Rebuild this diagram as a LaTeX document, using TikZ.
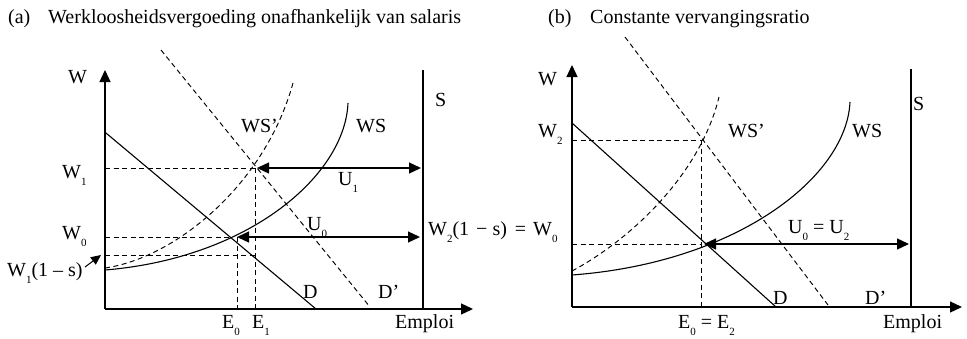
\documentclass[tikz,border=0pt]{standalone}
\usepackage{fontspec}
\setmainfont{Liberation Serif}
\usetikzlibrary{arrows.meta}
\newcommand\sbs[1]{\raisebox{-7pt}{\fontsize{11}{11}\selectfont #1}}
\begin{document}
\begin{tikzpicture}[x=1pt,y=-1pt,font=\fontsize{20}{22}\selectfont,
  axis/.style={line width=1.3pt,-{Triangle[length=12pt,width=11pt]}},
  curve/.style={line width=1.1pt},
  dcurve/.style={line width=0.95pt,dash pattern=on 5pt off 3.5pt},
  guide/.style={line width=0.95pt,dash pattern=on 5pt off 3.5pt},
  uarrow/.style={line width=1.3pt,{Triangle[length=12pt,width=11pt]}-{Triangle[length=12pt,width=11pt]}},
  lbl/.style={anchor=base west,inner sep=0pt}]
\useasboundingbox (0,0) rectangle (967,338);
% ---------------- panel (a) ----------------
\coordinate (aO) at (105,309);
\coordinate (aYt) at (105,70);
\coordinate (aXt) at (473,309);
\coordinate (aSt) at (423,70);
\coordinate (aSb) at (423,309);
\draw[axis] (aO) -- (aYt);
\draw[axis] (aO) -- (aXt);
\draw[line width=1.1pt] (aSt) -- (aSb);
% D and D'
\coordinate (aD1) at (106,133); \coordinate (aD2) at (316,309);
\draw[curve] (aD1) -- (aD2);
\coordinate (aDp1) at (161,50); \coordinate (aDp2) at (370,307);
\draw[dcurve] (aDp1) -- (aDp2);
% WS and WS'
\coordinate (aWS0) at (105,270); \coordinate (aWS1) at (348,103);
\draw[curve] (aWS0) .. controls (250,258) and (345,175) .. (aWS1);
\coordinate (aWSp0) at (105,268); \coordinate (aWSp1) at (293,83);
\draw[dcurve] (aWSp0) .. controls (175,258) and (265,185) .. (aWSp1);
% levels
\coordinate (aW1l) at (105,168); \coordinate (aW1m) at (255,168);
\coordinate (aW1a) at (257,168); \coordinate (aW1r) at (421,168);
\coordinate (aW0l) at (105,237); \coordinate (aW0m) at (230,237);
\coordinate (aW0a) at (237,237); \coordinate (aW0r) at (420,237);
\coordinate (aWsl) at (105,255); \coordinate (aWsm) at (255,255);
\coordinate (aE0t) at (237,237); \coordinate (aE0b) at (237,309);
\coordinate (aE1t) at (255,168); \coordinate (aE1b) at (255,309);
\draw[guide] (aW1l) -- (aW1m);
\draw[guide] (aW0l) -- (aW0m);
\draw[guide] (aWsl) -- (aWsm);
\draw[guide] (aE0t) -- (aE0b);
\draw[guide] (aE1t) -- (aE1b);
\draw[uarrow] (aW1a) -- (aW1r);
\draw[uarrow] (aW0a) -- (aW0r);
\coordinate (aWsfrom) at (85,267); \coordinate (aWsto) at (101,255);
\draw[line width=1pt,-{Triangle[length=10pt,width=9pt]}] (aWsfrom) -- (aWsto);
% labels
\node[lbl] (ta1) at (8,23) {(a)};
\node[lbl] (ta2) at (48,23) {Werkloosheidsvergoeding onafhankelijk van salaris};
\node[lbl] (aW) at (68,83) {W};
\node[lbl] (aS) at (435,106) {S};
\node[lbl] (aWSp) at (241,132) {WS’};
\node[lbl] (aWS) at (356,132) {WS};
\node[lbl] (aW1) at (62,178) {W\sbs{1}};
\node[lbl] (aU1) at (338,185) {U\sbs{1}};
\node[lbl] (aU0) at (307,230) {U\sbs{0}};
\node[lbl] (aW0) at (62,239) {W\sbs{0}};
\node[lbl] (aWs) at (7,276) {W\sbs{1}(1 – s)};
\node[lbl] (aDl) at (303,298) {D};
\node[lbl] (aDpl) at (378,298) {D’};
\node[lbl] (aE0) at (222,328) {E\sbs{0}};
\node[lbl] (aE1) at (252,328) {E\sbs{1}};
\node[lbl] (aEm) at (395,328) {Emploi};
\node[lbl] (bW0lab) at (428,235) {W\sbs{2}(1\hspace{2pt} − s)\hspace{3pt} =\hspace{2pt} W\sbs{0}};
% ---------------- panel (b) ----------------
\coordinate (bO) at (572,307);
\coordinate (bYt) at (572,65);
\coordinate (bXt) at (962,307);
\coordinate (bSt) at (911,69);
\coordinate (bSb) at (911,307);
\draw[axis] (bO) -- (bYt);
\draw[axis] (bO) -- (bXt);
\draw[line width=1.1pt] (bSt) -- (bSb);
\coordinate (bD1) at (572,123); \coordinate (bD2) at (776,307);
\draw[curve] (bD1) -- (bD2);
\coordinate (bDp1) at (625,37); \coordinate (bDp2) at (828,305);
\draw[dcurve] (bDp1) -- (bDp2);
\coordinate (bWS0) at (572,275); \coordinate (bWS1) at (850,102);
\draw[curve] (bWS0) .. controls (738,262.6) and (846.6,176.6) .. (bWS1);
\coordinate (bWSp0) at (572,271); \coordinate (bWSp1) at (719,97);
\draw[dcurve] (bWSp0) .. controls (630,240) and (700,175) .. (bWSp1);
\coordinate (bW2l) at (572,140); \coordinate (bW2m) at (700,140);
\coordinate (bW0l) at (572,244); \coordinate (bW0m) at (702,244);
\coordinate (bW0a) at (704,244); \coordinate (bW0r) at (909,244);
\coordinate (bEt) at (701,140); \coordinate (bEb) at (701,307);
\draw[guide] (bW2l) -- (bW2m);
\draw[guide] (bW0l) -- (bW0m);
\draw[guide] (bEt) -- (bEb);
\draw[uarrow] (bW0a) -- (bW0r);
\node[lbl] (tb1) at (548,23) {(b)};
\node[lbl] (tb2) at (590,23) {Constante vervangingsratio};
\node[lbl] (bW) at (538,85) {W};
\node[lbl] (bW2) at (538,137) {W\sbs{2}};
\node[lbl] (bS) at (913,110) {S};
\node[lbl] (bWSp) at (728,137) {WS’};
\node[lbl] (bWS) at (852,137) {WS};
\node[lbl] (bU) at (788,233) {U\sbs{0} = U\sbs{2}};
\node[lbl] (bDl) at (773,304) {D};
\node[lbl] (bDpl) at (865,304) {D’};
\node[lbl] (bE) at (678,328) {E\sbs{0} = E\sbs{2}};
\node[lbl] (bEm) at (883,328) {Emploi};
\end{tikzpicture}
\end{document}
